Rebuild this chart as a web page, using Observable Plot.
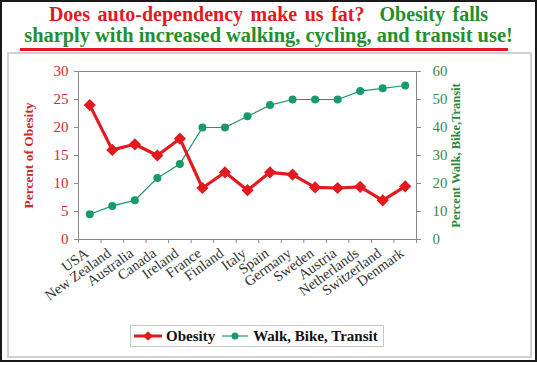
<!DOCTYPE html>
<html>
<head>
<meta charset="utf-8">
<script src="https://cdn.jsdelivr.net/npm/d3@7"></script>
<script src="https://cdn.jsdelivr.net/npm/@observablehq/plot@0.6"></script>
<style>
  html, body { margin: 0; padding: 0; background: #fff; }
  #page { position: relative; width: 537px; height: 365px; overflow: hidden; font-family: "Liberation Serif", "DejaVu Serif", serif; }
  #outer { position: absolute; left: 0; top: 0; width: 533px; height: 358px; border: 2px solid #1a1a1a; }
  #inner { position: absolute; left: 7px; top: 52px; width: 521px; height: 302px; border: 2px solid #d0d0d0; }
  #title { position: absolute; left: 0; top: 4px; width: 537px; text-align: center; font-weight: bold; font-size: 20px; line-height: 21px; white-space: nowrap; }
  #title .l1 { word-spacing: 2.5px; }
  #title .l2 { font-size: 20.4px; }
  #underline { position: absolute; left: 20px; top: 48px; width: 488px; height: 3px; background: #e01a1f; }
  #chart { position: absolute; left: 0; top: 53px; }
  #legend { position: absolute; left: 130px; top: 325px; width: 252px; height: 20px; border: 1px solid #c8c8c8; font-weight: bold; font-size: 15px; display: flex; align-items: center; color: #111; }
  #legend svg { display: block; }
</style>
</head>
<body>
<div id="page">
  <div id="outer"></div>
  <div id="inner"></div>
  <div id="title"><span class="l1"><span style="color:#e01a1f">Does auto-dependency make us fat?</span>&nbsp; <span style="color:#1f8f2f">Obesity falls</span></span><br><span class="l2" style="color:#1f8f2f">sharply with increased walking, cycling, and transit use!</span></div>
  <div id="underline"></div>
  <div id="chart"></div>
  <div id="legend"></div>
</div>
<script>
const countries = ["USA","New Zealand","Australia","Canada","Ireland","France","Finland","Italy","Spain","Germany","Sweden","Austria","Netherlands","Switzerland","Denmark"];
const obesity = [24, 16, 17, 15, 18, 9.2, 12, 8.8, 12, 11.6, 9.3, 9.2, 9.4, 7, 9.5];
const walkBikeTransit = [9, 12, 14, 22, 27, 40, 40, 44, 48, 50, 50, 50, 53, 54, 55];
const leftTicks = [0, 5, 10, 15, 20, 25, 30];
const rightTicks = [0, 10, 20, 30, 40, 50, 60];
const seriesNames = ["Obesity", "Walk, Bike, Transit"];
const leftTitle = "Percent of Obesity";
const rightTitle = "Percent Walk, Bike,Transit";

const RED = "#e01a1f";
const GREEN = "#1a9a6a";
const ratio = 30 / 60;

const rows = countries.map((c, i) => ({i, country: c, obesity: obesity[i], walk: walkBikeTransit[i]}));
const boundaries = d3.range(countries.length + 1).map(d => d - 0.5);

const chart = Plot.plot({
  width: 537,
  height: 270,
  marginLeft: 78,
  marginRight: 121,
  marginTop: 18,
  marginBottom: 84,
  style: {fontFamily: "Liberation Serif", background: "transparent", overflow: "visible"},
  x: {type: "linear", domain: [-0.5, countries.length - 0.5]},
  y: {domain: [0, 30]},
  marks: [
    Plot.frame({stroke: "#8a8a8a"}),
    Plot.axisY(leftTicks, {anchor: "left", tickSize: 4, tickPadding: 6, fontSize: 15, fill: "#cc2a32", stroke: "#8a8a8a", label: null}),
    Plot.axisY(rightTicks.map(d => d * ratio), {anchor: "right", tickFormat: d => String(Math.round(d / ratio)), tickSize: 4, tickPadding: 12, fontSize: 15, fill: "#3a8a4e", stroke: "#8a8a8a", label: null}),
    Plot.axisX(boundaries, {anchor: "bottom", tickSize: 4, tickFormat: () => "", stroke: "#8a8a8a", label: null}),
    Plot.axisX(d3.range(countries.length), {anchor: "bottom", tickSize: 0, tickPadding: 12, tickRotate: -36, tickFormat: i => countries[i], fontSize: 14.5, fill: "#333", dx: -3, label: null}),
    Plot.text([leftTitle], {frameAnchor: "left", dx: -50, rotate: -90, textAnchor: "middle", lineAnchor: "middle", fontWeight: "bold", fontSize: 13.5, fill: "#cc2a32"}),
    Plot.text([rightTitle], {frameAnchor: "right", dx: 39, rotate: -90, textAnchor: "middle", lineAnchor: "middle", fontWeight: "bold", fontSize: 12.5, fill: "#2a8a3a"}),
    Plot.line(rows, {x: "i", y: d => d.walk * ratio, stroke: GREEN, strokeWidth: 1.2}),
    Plot.dot(rows, {x: "i", y: d => d.walk * ratio, r: 4, fill: GREEN, stroke: "none"}),
    Plot.line(rows, {x: "i", y: "obesity", stroke: RED, strokeWidth: 3.2}),
    Plot.dot(rows, {x: "i", y: "obesity", symbol: "diamond2", r: 5.5, fill: RED, stroke: "none"})
  ]
});
document.getElementById("chart").appendChild(chart);

// legend
const legend = d3.select("#legend");
function swatch(color, kind, w) {
  const s = legend.append("svg").attr("width", w).attr("height", 20);
  s.append("line").attr("x1", 3).attr("x2", w - 3).attr("y1", 10).attr("y2", 10)
    .attr("stroke", color).attr("stroke-width", kind === "diamond" ? 3 : 1.2);
  if (kind === "diamond") {
    s.append("path").attr("d", d3.symbol(d3.symbolDiamond2, 60)()).attr("transform", `translate(${w/2},10)`).attr("fill", color);
  } else {
    s.append("circle").attr("cx", w / 2).attr("cy", 10).attr("r", 3.5).attr("fill", color);
  }
}
swatch(RED, "diamond", 34);
legend.append("span").text(seriesNames[0]).style("margin-left", "1px").style("margin-right", "4px");
swatch(GREEN, "circle", 32);
legend.append("span").text(seriesNames[1]).style("margin-left", "2px");
</script>
</body>
</html>
